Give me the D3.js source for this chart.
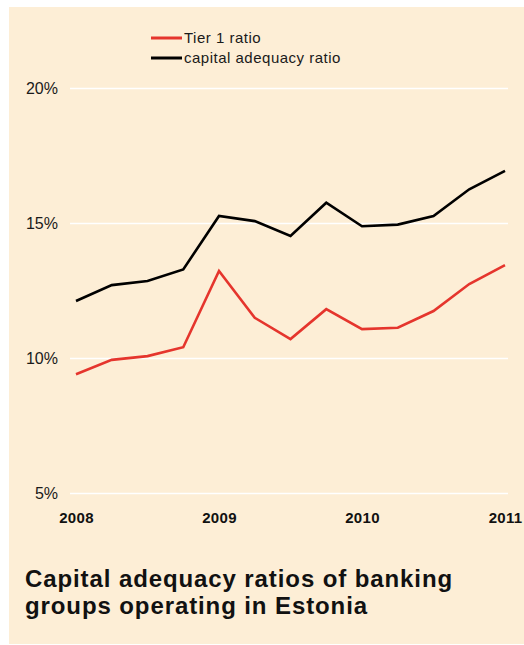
<!DOCTYPE html>
<html>
<head>
<meta charset="utf-8">
<script src="https://cdn.jsdelivr.net/npm/d3@7"></script>
<style>
  html, body { margin: 0; padding: 0; background: #ffffff; }
  svg { display: block; font-family: "Liberation Sans", Arial, Helvetica, sans-serif; }
</style>
</head>
<body>
<svg id="chart" width="524" height="645"></svg>
<script>
// Quarterly observations, 2008 Q1 – 2011 Q1
const quarters = ["2008Q1","2008Q2","2008Q3","2008Q4","2009Q1","2009Q2","2009Q3","2009Q4",
                  "2010Q1","2010Q2","2010Q3","2010Q4","2011Q1"];
const tier1Ratio = [9.40, 9.93, 10.07, 10.40, 13.22, 11.49, 10.70, 11.81, 11.07, 11.12, 11.74, 12.74, 13.44];
const capitalAdequacyRatio = [12.11, 12.70, 12.85, 13.28, 15.26, 15.07, 14.52, 15.75, 14.88, 14.94, 15.26, 16.25, 16.93];
const yTicks = [5, 10, 15, 20];
const yearLabels = ["2008", "2009", "2010", "2011"];
const seriesNames = ["Tier 1 ratio", "capital adequacy ratio"];

const colors = { tier1: "#e5352d", car: "#000000" };

const svg = d3.select("#chart");

// panel background
svg.append("rect")
  .attr("x", 9).attr("y", 7)
  .attr("width", 515).attr("height", 637)
  .attr("fill", "#fdeed6");

const x = d3.scalePoint().domain(quarters).range([76, 505]);
const y = d3.scaleLinear().domain([5, 20]).range([493, 88]);

// y axis with white gridlines
const yAxis = svg.append("g")
  .attr("transform", "translate(70,0)")
  .call(d3.axisLeft(y).tickValues(yTicks).tickSize(-438).tickPadding(12)
        .tickFormat(d => d + "%"));
yAxis.select(".domain").remove();
yAxis.selectAll(".tick line").attr("stroke", "#ffffff").attr("stroke-width", 1.6);
yAxis.selectAll(".tick text")
  .attr("font-size", 16).attr("fill", "#1a1a1a")
  .attr("dy", "0.34em")
  .style("font-family", "'Liberation Sans', Arial, sans-serif");

// x axis: year labels at the first quarter of each year
const yearQuarters = yearLabels.map(yr => yr + "Q1");
const xAxis = svg.append("g")
  .call(d3.axisBottom(x).tickValues(yearQuarters).tickSize(0).tickFormat(d => d.slice(0, 4)));
xAxis.select(".domain").remove();
xAxis.selectAll(".tick text")
  .attr("y", 523).attr("dy", null)
  .attr("font-size", 15).attr("font-weight", "bold").attr("fill", "#111")
  .attr("letter-spacing", "0.3px")
  .style("font-family", "'Liberation Sans', Arial, sans-serif");

// series lines
const line = d3.line()
  .x((d, i) => x(quarters[i]))
  .y(d => y(d));

svg.append("path")
  .datum(capitalAdequacyRatio)
  .attr("fill", "none")
  .attr("stroke", colors.car)
  .attr("stroke-width", 2.6)
  .attr("stroke-linejoin", "miter")
  .attr("d", line);

svg.append("path")
  .datum(tier1Ratio)
  .attr("fill", "none")
  .attr("stroke", colors.tier1)
  .attr("stroke-width", 2.6)
  .attr("stroke-linejoin", "miter")
  .attr("d", line);

// legend
const legend = svg.append("g");
const legendItems = [
  { name: seriesNames[0], color: colors.tier1, y: 38 },
  { name: seriesNames[1], color: colors.car, y: 58 }
];
legendItems.forEach(it => {
  legend.append("line")
    .attr("x1", 151).attr("x2", 182)
    .attr("y1", it.y).attr("y2", it.y)
    .attr("stroke", it.color).attr("stroke-width", 3);
  legend.append("text")
    .attr("x", 184).attr("y", it.y + 5)
    .attr("font-size", 15).attr("fill", "#1a1a1a")
    .attr("letter-spacing", "0.5px")
    .text(it.name);
});

// title
const titleLines = ["Capital adequacy ratios of banking", "groups operating in Estonia"];
svg.append("text")
  .attr("x", 25).attr("y", 587)
  .attr("font-size", 24).attr("font-weight", "bold").attr("fill", "#111")
  .attr("letter-spacing", "0.9px")
  .selectAll("tspan")
  .data(titleLines)
  .join("tspan")
  .attr("x", 25)
  .attr("dy", (d, i) => i === 0 ? 0 : 27)
  .text(d => d);
</script>
</body>
</html>
